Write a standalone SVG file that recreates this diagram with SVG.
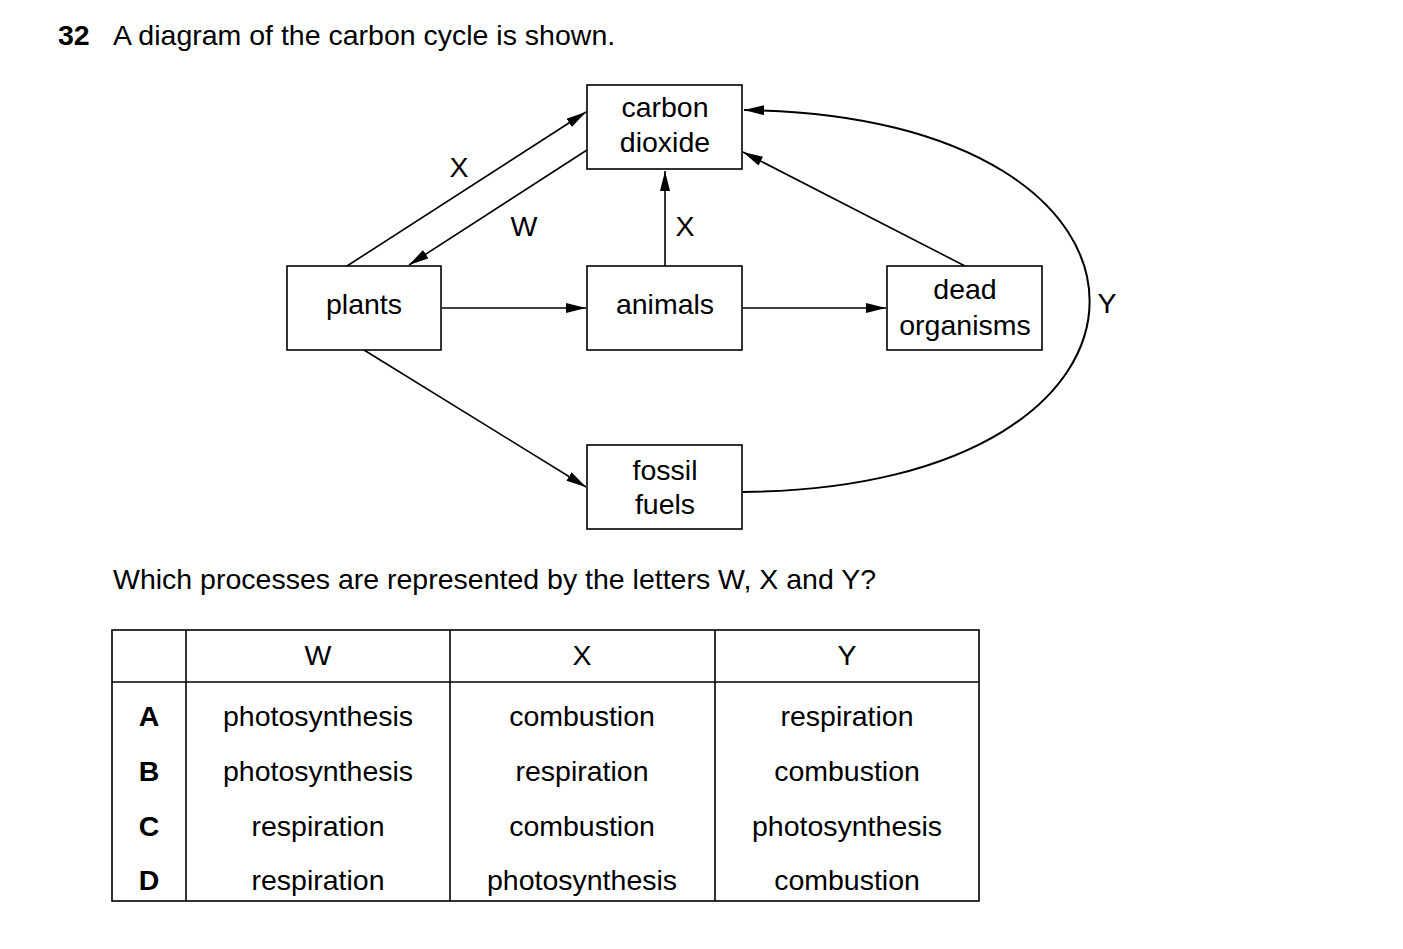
<svg xmlns="http://www.w3.org/2000/svg" width="1403" height="949" viewBox="0 0 1403 949">
<style>
text{font-family:"Liberation Sans",Arial,sans-serif;font-size:28.5px;fill:#000}
.c{text-anchor:middle}
.b{fill:#fff;stroke:#000;stroke-width:1.6}
.l{stroke:#000;stroke-width:1.6;fill:none}
</style>
<defs><marker id="a" viewBox="0 0 20 10" refX="20" refY="5" markerWidth="20" markerHeight="10" markerUnits="userSpaceOnUse" orient="auto"><path d="M0,0L20,5L0,10z" fill="#000"/></marker></defs>
<rect width="1403" height="949" fill="#fff"/>
<text x="58" y="45" style="font-weight:bold">32</text>
<text x="113" y="45">A diagram of the carbon cycle is shown.</text>
<g id="connectors">
<line class="l" x1="347" y1="266" x2="586" y2="112" marker-end="url(#a)"/>
<line class="l" x1="587" y1="150" x2="409" y2="265" marker-end="url(#a)"/>
<line class="l" x1="665" y1="266" x2="665" y2="171" marker-end="url(#a)"/>
<line class="l" x1="442" y1="308" x2="586" y2="308" marker-end="url(#a)"/>
<line class="l" x1="743" y1="308" x2="886" y2="308" marker-end="url(#a)"/>
<line class="l" x1="965" y1="266" x2="743" y2="152" marker-end="url(#a)"/>
<line class="l" x1="364" y1="350" x2="586" y2="487" marker-end="url(#a)"/>
<path class="l" style="stroke-width:2" d="M743,492 C1205,488 1205,115 744,110" marker-end="url(#a)"/>
<text x="459" y="177" class="c">X</text>
<text x="524" y="236" class="c">W</text>
<text x="685" y="236" class="c">X</text>
<text x="1107" y="313" class="c">Y</text>
</g>
<g id="co2"><rect class="b" x="587" y="85" width="155" height="84"/><text x="665" y="117" class="c">carbon</text><text x="665" y="152" class="c">dioxide</text></g>
<g id="plants"><rect class="b" x="287" y="266" width="154" height="84"/><text x="364" y="314" class="c">plants</text></g>
<g id="animals"><rect class="b" x="587" y="266" width="155" height="84"/><text x="665" y="314" class="c">animals</text></g>
<g id="dead"><rect class="b" x="887" y="266" width="155" height="84"/><text x="965" y="299" class="c">dead</text><text x="965" y="335" class="c">organisms</text></g>
<g id="fossil"><rect class="b" x="587" y="445" width="155" height="84"/><text x="665" y="480" class="c">fossil</text><text x="665" y="514" class="c">fuels</text></g>
<text x="113" y="589">Which processes are represented by the letters W, X and Y?</text>
<g id="table">
<rect class="l" x="112" y="630" width="867" height="271"/>
<line class="l" x1="112" y1="682" x2="979" y2="682"/>
<line class="l" x1="186" y1="630" x2="186" y2="901"/>
<line class="l" x1="450" y1="630" x2="450" y2="901"/>
<line class="l" x1="715" y1="630" x2="715" y2="901"/>
<text x="318" y="665" class="c">W</text><text x="582" y="665" class="c">X</text><text x="847" y="665" class="c">Y</text>
<text x="149" y="726" class="c" style="font-weight:bold">A</text><text x="149" y="781" class="c" style="font-weight:bold">B</text><text x="149" y="836" class="c" style="font-weight:bold">C</text><text x="149" y="890" class="c" style="font-weight:bold">D</text>
<text x="318" y="726" class="c">photosynthesis</text><text x="582" y="726" class="c">combustion</text><text x="847" y="726" class="c">respiration</text>
<text x="318" y="781" class="c">photosynthesis</text><text x="582" y="781" class="c">respiration</text><text x="847" y="781" class="c">combustion</text>
<text x="318" y="836" class="c">respiration</text><text x="582" y="836" class="c">combustion</text><text x="847" y="836" class="c">photosynthesis</text>
<text x="318" y="890" class="c">respiration</text><text x="582" y="890" class="c">photosynthesis</text><text x="847" y="890" class="c">combustion</text>
</g>
</svg>
